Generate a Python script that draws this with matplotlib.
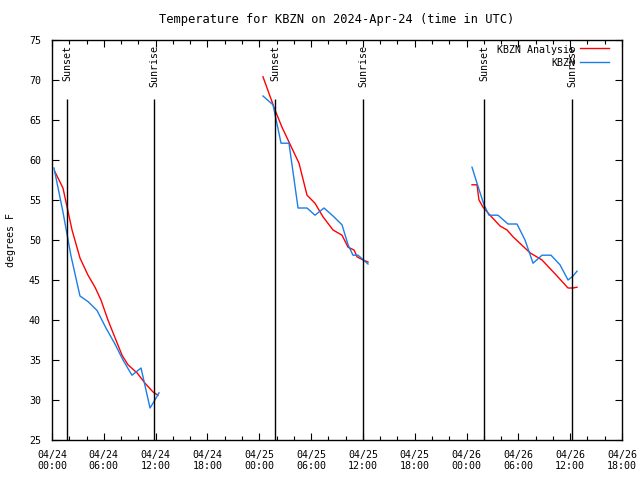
import pandas as pd
import matplotlib
matplotlib.use("Agg")
import matplotlib.pyplot as plt
import matplotlib.dates as mdates

# %% Data (hours after 2024-04-24 00:00 UTC)
base = pd.Timestamp("2024-04-24 00:00")

obs_hours = [0.23, 1.27, 2.20, 3.24, 4.17, 5.21, 6.25, 7.29, 8.22, 9.26, 10.31, 11.35, 11.81, 12.39,
             None,
             24.43, 25.59, 26.52, 27.44, 28.49, 29.53, 30.45, 31.50, 32.54, 33.58, 34.28, 34.85, 35.43, 36.59,
             None,
             48.63, 49.21, 50.02, 50.60, 51.64, 52.80, 53.84, 54.77, 55.70, 56.74, 57.78, 58.82, 59.75, 60.33, 60.79]
obs_temp = [59.0, 53.5, 48.0, 43.0, 42.3, 41.2, 39.0, 37.0, 35.0, 33.1, 34.0, 29.0, 29.8, 30.9,
            None,
            68.0, 66.9, 62.1, 62.1, 54.0, 54.0, 53.1, 54.0, 53.0, 51.9, 49.4, 48.1, 48.1, 47.0,
            None,
            59.1, 57.1, 54.4, 53.1, 53.1, 52.0, 52.0, 50.0, 47.1, 48.1, 48.1, 46.9, 45.0, 45.5, 46.1]

ana_hours = [0.35, 1.27, 1.62, 2.32, 3.24, 4.17, 4.98, 5.67, 6.48, 7.29, 8.11, 8.80, 9.84, 10.77, 11.70, 12.27,
             None,
             24.43, 25.82, 26.63, 27.44, 28.60, 29.53, 30.45, 31.38, 32.54, 33.58, 34.28, 34.97, 35.32, 36.01, 36.59,
             None,
             48.63, 49.21, 49.44, 49.91, 50.72, 51.88, 52.69, 53.38, 55.35, 56.74, 58.48, 59.75, 60.33, 60.79]
ana_temp = [58.5, 56.5, 54.75, 51.25, 47.75, 45.6, 44.1, 42.5, 40.0, 37.8, 35.6, 34.4, 33.4, 32.1, 31.0, 30.6,
            None,
            70.4, 66.25, 64.1, 62.25, 59.6, 55.6, 54.6, 52.9, 51.25, 50.6, 49.1, 48.75, 47.9, 47.5, 47.25,
            None,
            56.9, 56.9, 55.0, 54.1, 53.1, 51.75, 51.25, 50.4, 48.4, 47.5, 45.5, 44.0, 44.0, 44.1]

sun_hours = [1.74, 11.81, 25.82, 36.01, 50.02, 60.21]
sun_labels = ["Sunset", "Sunrise", "Sunset", "Sunrise", "Sunset", "Sunrise"]


def to_series(hours, temps):
    t = [pd.NaT if h is None else base + pd.Timedelta(hours=h) for h in hours]
    v = [float("nan") if x is None else x for x in temps]
    return pd.Series(v, index=pd.DatetimeIndex(t))


obs = to_series(obs_hours, obs_temp)
ana = to_series(ana_hours, ana_temp)

# %% Plot
plt.rcParams["font.family"] = "DejaVu Sans Mono"
plt.rcParams["font.size"] = 7.2

fig = plt.figure(figsize=(6.4, 4.8), dpi=100)
ax = fig.add_axes([52 / 640, 40 / 480, 570 / 640, 400 / 480])

blue = "#1a7ee8"
red = "#ff0000"

ax.plot(ana.index, ana.values, color=red, lw=1.0)
ax.plot(obs.index, obs.values, color=blue, lw=1.0)

for h, lab in zip(sun_hours, sun_labels):
    t = base + pd.Timedelta(hours=h)
    ax.vlines(t, 25, 67.6, color="black", lw=1.0)
    ax.text(t, 74.4, lab, rotation=90, ha="center", va="top")

ax.set_xlim(base, base + pd.Timedelta(hours=66))
ax.set_ylim(25, 75)
ax.set_yticks(range(25, 76, 5))
ax.xaxis.set_major_locator(mdates.HourLocator(byhour=[0, 6, 12, 18]))
ax.xaxis.set_minor_locator(mdates.HourLocator(byhour=range(0, 24, 2)))
ax.xaxis.set_major_formatter(mdates.DateFormatter("%m/%d\n%H:%M"))
ax.tick_params(axis="both", which="major", direction="in", length=5, width=0.8,
               top=True, right=True, color="black")
ax.tick_params(axis="x", which="minor", direction="in", length=3, width=0.8, top=True)
ax.tick_params(axis="y", pad=8)
ax.tick_params(axis="x", pad=7)
for s in ax.spines.values():
    s.set_linewidth(1.0)

ax.set_ylabel("degrees F", labelpad=9)
ax.set_title("Temperature for KBZN on 2024-Apr-24 (time in UTC)", pad=12)

# legend, gnuplot style: text right, sample line after it
ax.text(0.9175, 0.975, "KBZN Analysis", transform=ax.transAxes, ha="right", va="center")
ax.plot([0.926, 0.977], [0.98, 0.98], transform=ax.transAxes, color=red, lw=1.0)
ax.text(0.9175, 0.9425, "KBZN", transform=ax.transAxes, ha="right", va="center")
ax.plot([0.926, 0.977], [0.945, 0.945], transform=ax.transAxes, color=blue, lw=1.0)

fig.savefig("out.png", dpi=100)
